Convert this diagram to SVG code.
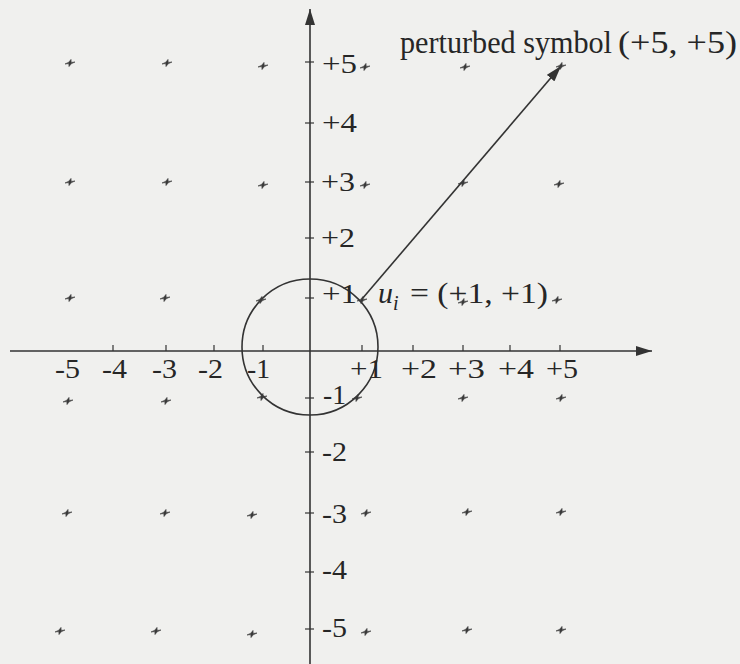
<svg xmlns="http://www.w3.org/2000/svg" xmlns:xlink="http://www.w3.org/1999/xlink" width="740" height="664" viewBox="0 0 740 664">
<style>
.ln{stroke:#333;stroke-width:1.6;fill:none}
.tk{stroke:#333;stroke-width:1.2}
.t{font-family:"Liberation Serif","DejaVu Serif",serif;fill:#262626;font-size:28px}
.ti{font-family:"Liberation Serif","DejaVu Serif",serif;fill:#262626;font-size:32px}
.it{font-style:italic}
</style>
<defs>
<marker id="ah" viewBox="0 0 16 10" refX="16" refY="5" markerWidth="16" markerHeight="10" markerUnits="userSpaceOnUse" orient="auto">
<path d="M0,0 L16,5 L0,10 Z" fill="#333"/>
</marker>
<path id="st" d="M-5,1 L-1.2,-0.8 L1,-3.6 L1.2,-0.6 L5,-1 L1.2,0.8 L-1,3.6 L-1.2,0.6 Z" fill="#3a3a3a" stroke="#3a3a3a" stroke-width="0.6" stroke-linejoin="round"/>
</defs>
<rect width="740" height="664" fill="#f0f0ee"/>

<g id="axes">
<line class="ln" x1="10" y1="351" x2="652" y2="351" marker-end="url(#ah)"/>
<line class="ln" x1="310" y1="664" x2="310" y2="9" marker-end="url(#ah)"/>
<g id="xticks">
<line class="tk" x1="113" y1="345" x2="113" y2="351"/>
<line class="tk" x1="166" y1="345" x2="166" y2="351"/>
<line class="tk" x1="214" y1="345" x2="214" y2="351"/>
<line class="tk" x1="263" y1="345" x2="263" y2="351"/>
<line class="tk" x1="362" y1="345" x2="362" y2="351"/>
<line class="tk" x1="413" y1="345" x2="413" y2="351"/>
<line class="tk" x1="463" y1="345" x2="463" y2="351"/>
<line class="tk" x1="510" y1="345" x2="510" y2="351"/>
<line class="tk" x1="560" y1="345" x2="560" y2="351"/>
</g>
<g id="yticks">
<line class="tk" x1="305" y1="62" x2="314" y2="62"/>
<line class="tk" x1="305" y1="123" x2="314" y2="123"/>
<line class="tk" x1="305" y1="182" x2="314" y2="182"/>
<line class="tk" x1="305" y1="238" x2="314" y2="238"/>
<line class="tk" x1="305" y1="298" x2="314" y2="298"/>
<line class="tk" x1="305" y1="398" x2="314" y2="398"/>
<line class="tk" x1="305" y1="452" x2="314" y2="452"/>
<line class="tk" x1="305" y1="513" x2="314" y2="513"/>
<line class="tk" x1="305" y1="572" x2="314" y2="572"/>
<line class="tk" x1="305" y1="629" x2="314" y2="629"/>
</g>
</g>

<g id="circle">
<circle class="ln" cx="310" cy="347" r="68"/>
</g>

<g id="connectors">
<line class="ln" x1="362" y1="299" x2="561" y2="66" marker-end="url(#ah)"/>
</g>

<g id="points">
<use href="#st" x="70" y="63"/><use href="#st" x="167" y="63"/><use href="#st" x="263" y="66"/><use href="#st" x="365" y="67"/><use href="#st" x="465" y="67"/><use href="#st" x="561" y="66"/>
<use href="#st" x="70" y="182"/><use href="#st" x="167" y="182"/><use href="#st" x="263" y="185"/><use href="#st" x="365" y="185"/><use href="#st" x="463" y="183"/><use href="#st" x="559" y="184"/>
<use href="#st" x="70" y="298"/><use href="#st" x="165" y="298"/><use href="#st" x="261" y="300"/><use href="#st" x="362" y="300"/><use href="#st" x="463" y="302"/><use href="#st" x="557" y="300"/>
<use href="#st" x="68" y="401"/><use href="#st" x="166" y="401"/><use href="#st" x="262" y="397"/><use href="#st" x="357" y="398"/><use href="#st" x="463" y="398"/><use href="#st" x="561" y="398"/>
<use href="#st" x="67" y="513"/><use href="#st" x="165" y="513"/><use href="#st" x="252" y="515"/><use href="#st" x="366" y="513"/><use href="#st" x="467" y="512"/><use href="#st" x="561" y="512"/>
<use href="#st" x="60" y="631"/><use href="#st" x="156" y="631"/><use href="#st" x="252" y="634"/><use href="#st" x="366" y="632"/><use href="#st" x="467" y="630"/><use href="#st" x="561" y="630"/>
</g>

<g id="xlabels">
<text class="t" x="55" y="378" textLength="25" lengthAdjust="spacingAndGlyphs">-5</text>
<text class="t" x="102" y="378" textLength="25" lengthAdjust="spacingAndGlyphs">-4</text>
<text class="t" x="152" y="378" textLength="25" lengthAdjust="spacingAndGlyphs">-3</text>
<text class="t" x="198" y="378" textLength="25" lengthAdjust="spacingAndGlyphs">-2</text>
<text class="t" x="247" y="378" textLength="23" lengthAdjust="spacingAndGlyphs">-1</text>
<text class="t" x="350" y="378" textLength="33" lengthAdjust="spacingAndGlyphs">+1</text>
<text class="t" x="401" y="378" textLength="36" lengthAdjust="spacingAndGlyphs">+2</text>
<text class="t" x="448" y="378" textLength="37" lengthAdjust="spacingAndGlyphs">+3</text>
<text class="t" x="498" y="378" textLength="36" lengthAdjust="spacingAndGlyphs">+4</text>
<text class="t" x="546" y="378" textLength="32" lengthAdjust="spacingAndGlyphs">+5</text>
</g>

<g id="ylabels">
<text class="t" x="322" y="73" textLength="35" lengthAdjust="spacingAndGlyphs">+5</text>
<text class="t" x="322" y="132" textLength="35" lengthAdjust="spacingAndGlyphs">+4</text>
<text class="t" x="321" y="191" textLength="34" lengthAdjust="spacingAndGlyphs">+3</text>
<text class="t" x="321" y="247" textLength="34" lengthAdjust="spacingAndGlyphs">+2</text>
<text class="t" x="322" y="303" textLength="35" lengthAdjust="spacingAndGlyphs">+1</text>
<text class="t" x="323" y="404" textLength="23" lengthAdjust="spacingAndGlyphs">-1</text>
<text class="t" x="322" y="461" textLength="25" lengthAdjust="spacingAndGlyphs">-2</text>
<text class="t" x="322" y="523" textLength="25" lengthAdjust="spacingAndGlyphs">-3</text>
<text class="t" x="322" y="579" textLength="25" lengthAdjust="spacingAndGlyphs">-4</text>
<text class="t" x="322" y="637" textLength="25" lengthAdjust="spacingAndGlyphs">-5</text>
</g>

<g id="label-ui">
<text class="t it" x="378" y="303" style="font-size:30px">u</text>
<text class="t it" x="393" y="310" style="font-size:20px">i</text>
<text class="t" x="410" y="303" style="font-size:30px" textLength="138" lengthAdjust="spacingAndGlyphs">= (+1, +1)</text>
</g>

<g id="label-perturbed">
<text class="ti" x="400" y="53" textLength="212" lengthAdjust="spacingAndGlyphs">perturbed symbol</text>
<text class="ti" x="618" y="53" textLength="119" lengthAdjust="spacingAndGlyphs">(+5, +5)</text>
</g>
</svg>
